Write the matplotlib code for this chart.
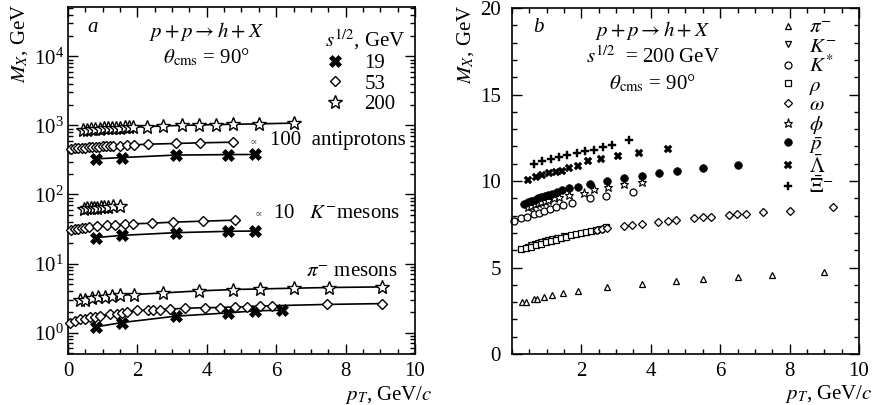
import matplotlib.pyplot as plt
from matplotlib.ticker import MultipleLocator, FixedLocator, LogLocator, NullFormatter
from matplotlib.lines import Line2D

plt.rcParams["font.family"] = ["Liberation Serif", "DejaVu Serif"]
plt.rcParams["mathtext.fontset"] = "stix"
plt.rcParams["font.size"] = 15

# ---- panel a: M_X vs pT, theta_cms = 90 deg, three energies ----
# antiprotons (x100)
pt_pbar_19 = [0.8, 1.56, 3.1, 4.62, 5.39]
mx_pbar_19 = [328, 343, 372, 378, 380]
pt_pbar_53 = [0.1, 0.2, 0.3, 0.4, 0.5, 0.6, 0.7, 0.8, 0.9, 1.0, 1.1, 1.2, 1.3, 1.5, 1.7, 1.9, 2.3, 3.1, 3.8, 4.75]
mx_pbar_53 = [460, 465, 470, 474, 478, 482, 486, 490, 494, 498, 502, 505, 508, 512, 518, 523, 535, 548, 560, 572]
pt_pbar_200 = [0.43, 0.55, 0.67, 0.79, 0.91, 1.03, 1.15, 1.27, 1.39, 1.51, 1.63, 1.75, 1.87, 2.28, 2.74, 3.29, 3.78, 4.27, 4.76, 5.5, 6.5]
mx_pbar_200 = [860, 870, 880, 888, 896, 903, 910, 916, 922, 928, 934, 940, 945, 960, 985, 1000, 1015, 1030, 1040, 1055, 1080]

# K- mesons (x10)
pt_k_19 = [0.8, 1.56, 3.1, 4.62, 5.39]
mx_k_19 = [23.8, 25.6, 28.0, 29.3, 29.6]
pt_k_53 = [0.1, 0.2, 0.3, 0.4, 0.5, 0.6, 0.83, 1.12, 1.35, 1.64, 1.88, 2.41, 3.04, 3.9, 4.81]
mx_k_53 = [30.5, 31.2, 31.8, 32.4, 33.0, 33.6, 34.6, 35.7, 36.3, 36.8, 37.6, 38.4, 39.8, 41.1, 42.5]
pt_k_200 = [0.45, 0.55, 0.65, 0.75, 0.85, 0.95, 1.05, 1.15, 1.3, 1.5]
mx_k_200 = [62.0, 62.8, 63.5, 64.2, 64.8, 65.4, 66.0, 66.5, 67.3, 68.5]

# pi- mesons
pt_pi_19 = [0.8, 1.56, 3.1, 4.62, 5.39, 6.16]
mx_pi_19 = [1.21, 1.40, 1.73, 1.93, 2.07, 2.11]
pt_pi_53 = [0.06, 0.2, 0.35, 0.49, 0.63, 0.78, 0.92, 1.21, 1.4, 1.55, 1.69, 1.98, 2.31, 2.46, 2.65, 2.94,
            3.37, 3.95, 4.38, 4.81, 5.15, 5.53, 5.87, 7.45, 9.04]
mx_pi_53 = [1.39, 1.48, 1.55, 1.60, 1.66, 1.69, 1.75, 1.85, 1.89, 1.93, 1.98, 2.11, 2.11, 2.12, 2.15, 2.19,
            2.25, 2.30, 2.31, 2.36, 2.37, 2.42, 2.45, 2.56, 2.63]
pt_pi_200 = [0.35, 0.49, 0.68, 0.87, 1.07, 1.26, 1.5, 1.9, 2.75, 3.78, 4.76, 5.53, 6.52, 7.52, 9.04]
mx_pi_200 = [2.95, 3.0, 3.18, 3.23, 3.29, 3.37, 3.48, 3.56, 3.76, 4.02, 4.21, 4.29, 4.4, 4.5, 4.59]

# ---- panel b: sqrt(s) = 200 GeV, different hadrons ----
pt_b_pi = [0.30, 0.41, 0.64, 0.73, 0.92, 1.14, 1.48, 1.89, 2.74, 3.74, 4.74, 5.5, 6.5, 7.5, 9.0]
mx_b_pi = [2.99, 3.02, 3.18, 3.19, 3.31, 3.41, 3.54, 3.66, 3.86, 4.06, 4.24, 4.34, 4.47, 4.57, 4.72]
pt_b_k = [0.45, 0.55, 0.65, 0.75, 0.85, 0.95, 1.05, 1.15, 1.3, 1.5]
mx_b_k = [6.20, 6.28, 6.35, 6.42, 6.48, 6.54, 6.60, 6.65, 6.73, 6.85]
pt_b_kst = [0.06, 0.25, 0.44, 0.64, 0.78, 0.92, 1.09, 1.26, 1.47, 1.73, 2.25, 2.71, 3.48]
mx_b_kst = [7.71, 7.84, 7.94, 8.08, 8.17, 8.27, 8.36, 8.48, 8.61, 8.75, 9.0, 9.15, 9.38]
pt_b_rho = [0.25, 0.40, 0.54, 0.68, 0.83, 0.97, 1.12, 1.26, 1.41, 1.55, 1.70, 1.84, 1.99, 2.13, 2.27, 2.42, 2.56, 2.71]
mx_b_rho = [6.05, 6.15, 6.20, 6.30, 6.38, 6.46, 6.53, 6.61, 6.69, 6.78, 6.86, 6.92, 6.98, 7.03, 7.09, 7.17, 7.23, 7.32]
pt_b_omega = [2.45, 2.6, 2.75, 3.24, 3.47, 3.74, 4.22, 4.49, 4.74, 5.24, 5.5, 5.75, 6.25, 6.49, 6.75, 7.23, 8.0, 9.26]
mx_b_omega = [7.18, 7.24, 7.3, 7.40, 7.46, 7.51, 7.65, 7.71, 7.75, 7.84, 7.90, 7.94, 8.03, 8.07, 8.11, 8.19, 8.28, 8.48]
pt_b_phi = [0.45, 0.55, 0.65, 0.75, 0.85, 0.95, 1.05, 1.2, 1.35, 1.65, 2.08, 2.37, 2.78, 3.24, 3.75]
mx_b_phi = [8.5, 8.58, 8.65, 8.72, 8.79, 8.85, 8.9, 9.0, 9.08, 9.2, 9.33, 9.55, 9.67, 9.81, 9.92]
pt_b_pbar = [0.35, 0.45, 0.55, 0.65, 0.75, 0.85, 0.95, 1.05, 1.15, 1.3, 1.45, 1.65, 1.9, 2.25, 2.73, 3.24,
             3.74, 4.25, 4.75, 5.5, 6.5]
mx_b_pbar = [8.7, 8.78, 8.86, 8.93, 9.0, 9.06, 9.12, 9.18, 9.25, 9.35, 9.47, 9.58, 9.67, 9.85, 10.0, 10.15,
             10.27, 10.44, 10.56, 10.73, 10.94]
pt_b_lam = [0.47, 0.68, 0.88, 1.07, 1.26, 1.45, 1.65, 1.89, 2.18, 2.56, 3.07, 3.67, 4.49]
mx_b_lam = [10.06, 10.25, 10.35, 10.45, 10.54, 10.6, 10.73, 10.88, 11.16, 11.28, 11.46, 11.65, 11.85]
pt_b_xi = [0.64, 0.88, 1.12, 1.36, 1.6, 1.86, 2.11, 2.37, 2.61, 2.88, 3.38]
mx_b_xi = [10.96, 11.16, 11.27, 11.41, 11.5, 11.62, 11.72, 11.82, 11.95, 12.1, 12.37]

# marker styles per energy (panel a)
sty_a = {
    "19": dict(marker="X", ms=8, mfc="black", mec="black", mew=0.5),
    "53": dict(marker="D", ms=5.5, mfc="white", mec="black", mew=1.0),
    "200": dict(marker="*", ms=10, mfc="white", mec="black", mew=1.0),
}

fig = plt.figure(figsize=(8.78, 4.05), dpi=100)
axa = fig.add_axes([0.0774, 0.1259, 0.3953, 0.857])
axb = fig.add_axes([0.5831, 0.1259, 0.3952, 0.854])

series_a = [
    (pt_pbar_19, mx_pbar_19, "19"), (pt_pbar_53, mx_pbar_53, "53"), (pt_pbar_200, mx_pbar_200, "200"),
    (pt_k_19, mx_k_19, "19"), (pt_k_53, mx_k_53, "53"), (pt_k_200, mx_k_200, "200"),
    (pt_pi_19, mx_pi_19, "19"), (pt_pi_53, mx_pi_53, "53"), (pt_pi_200, mx_pi_200, "200"),
]
for x, y, e in series_a:
    axa.plot(x, y, "-", color="black", lw=1.2, zorder=2)
    axa.plot(x, y, ls="none", zorder=3, clip_on=False, **sty_a[e])

axa.set_yscale("log")
axa.set_xlim(0, 10)
axa.set_ylim(0.49, 5.2e4)
axa.xaxis.set_major_locator(MultipleLocator(2))
axa.xaxis.set_minor_locator(MultipleLocator(0.5))
axa.yaxis.set_major_locator(LogLocator(base=10, numticks=10))
axa.yaxis.set_minor_locator(LogLocator(base=10, subs=range(2, 10), numticks=20))
axa.yaxis.set_minor_formatter(NullFormatter())
axa.tick_params(which="both", direction="in", top=True, right=True, width=1)
axa.tick_params(which="major", length=7)
axa.tick_params(which="minor", length=3.5)
axa.tick_params(axis="y", pad=3)
axa.tick_params(axis="x", pad=6)

axa.set_xlabel(r"$p_T$, GeV/$c$", loc="right")
axa.xaxis.set_label_coords(1.05, -0.085)
axa.set_ylabel(r"$M_X$, GeV", loc="top")
axa.yaxis.set_label_coords(-0.11, 1.01)

t = axa.transAxes
axa.text(0.072, 0.94, "a", style="italic", transform=t, ha="center", va="center")
axa.text(0.40, 0.928, r"$p + p \rightarrow h + X$", transform=t, ha="center", va="center")
axa.text(0.40, 0.853, r"$\theta_{\rm cms}$ = 90°", transform=t, ha="center", va="center")
axa.text(0.974, 0.614, "100  antiprotons", transform=t, ha="right", va="center")
axa.text(0.535, 0.612, "∝", transform=t, ha="center", va="center", fontsize=8, color="0.3")
axa.text(0.957, 0.406, r"10   $K^{-}$mesons", transform=t, ha="right", va="center")
axa.text(0.55, 0.404, "∝", transform=t, ha="center", va="center", fontsize=8, color="0.3")
axa.text(0.951, 0.236, r"$\pi^{-}$ mesons", transform=t, ha="right", va="center")

handles_a = [Line2D([], [], ls="none", **sty_a[e]) for e in ["19", "53", "200"]]
axa.legend(handles_a, ["19", "53", "200"], title=r"$s^{1/2}$, GeV", frameon=False,
           loc="upper left", bbox_to_anchor=(0.74, 0.94), borderaxespad=0, borderpad=0.0,
           handlelength=1.0, handletextpad=0.9, labelspacing=0.05, fontsize=15,
           title_fontsize=15, alignment="left")

# ---- panel b ----
series_b = [
    (pt_b_pi, mx_b_pi, r"$\pi^{-}$", dict(marker="^", ms=4.5, mfc="white", mec="black", mew=0.9)),
    (pt_b_k, mx_b_k, r"$K^{-}$", dict(marker="v", ms=4.5, mfc="white", mec="black", mew=0.9)),
    (pt_b_kst, mx_b_kst, r"$K^{*}$", dict(marker="o", ms=5, mfc="white", mec="black", mew=0.9)),
    (pt_b_rho, mx_b_rho, r"$\rho$", dict(marker="s", ms=4.5, mfc="white", mec="black", mew=0.9)),
    (pt_b_omega, mx_b_omega, r"$\omega$", dict(marker="D", ms=4.5, mfc="white", mec="black", mew=0.9)),
    (pt_b_phi, mx_b_phi, r"$\phi$", dict(marker="*", ms=6.5, mfc="white", mec="black", mew=0.8)),
    (pt_b_pbar, mx_b_pbar, r"$\bar{p}$", dict(marker="o", ms=5.5, mfc="black", mec="black", mew=0.5)),
    (pt_b_lam, mx_b_lam, r"$\bar{\Lambda}$", dict(marker="X", ms=6, mfc="black", mec="black", mew=0.3)),
    (pt_b_xi, mx_b_xi, r"$\bar{\Xi}^{-}$", dict(marker="P", ms=6, mfc="black", mec="black", mew=0.3)),
]
for x, y, lab, st in series_b:
    axb.plot(x, y, ls="none", label=lab, clip_on=False, **st)

axb.set_xlim(0, 10)
axb.set_ylim(0, 20)
axb.xaxis.set_major_locator(FixedLocator([2, 4, 6, 8, 10]))
axb.xaxis.set_minor_locator(MultipleLocator(0.5))
axb.yaxis.set_major_locator(MultipleLocator(5))
axb.yaxis.set_minor_locator(MultipleLocator(1))
axb.tick_params(which="both", direction="in", top=True, right=True, width=1)
axb.tick_params(which="major", length=7)
axb.tick_params(which="minor", length=3.5)
axb.tick_params(axis="y", pad=8)
axb.tick_params(axis="x", pad=6)

axb.set_xlabel(r"$p_T$, GeV/$c$", loc="right")
axb.xaxis.set_label_coords(1.04, -0.085)
axb.set_ylabel(r"$M_X$, GeV", loc="top")
axb.yaxis.set_label_coords(-0.105, 1.01)

t = axb.transAxes
axb.text(0.075, 0.945, "b", style="italic", transform=t, ha="center", va="center")
axb.text(0.406, 0.936, r"$p + p \rightarrow h + X$", transform=t, ha="center", va="center")
axb.text(0.406, 0.858, r"$s^{1/2}$  = 200 GeV", transform=t, ha="center", va="center")
axb.text(0.406, 0.783, r"$\theta_{\rm cms}$ = 90°", transform=t, ha="center", va="center")

axb.legend(frameon=False, loc="upper left", bbox_to_anchor=(0.772, 0.97), borderaxespad=0,
           borderpad=0, handlelength=0.8, handletextpad=0.6, labelspacing=-0.05, fontsize=15)

for ax in (axa, axb):
    for s in ax.spines.values():
        s.set_linewidth(1.2)

fig.savefig("out.png", dpi=100)
